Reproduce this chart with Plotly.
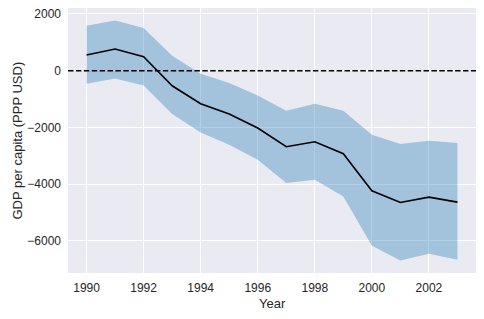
import plotly.graph_objects as go

years = list(range(1990, 2004))
mean_gdp = [553, 764, 493, -529, -1163, -1527, -2020, -2678, -2502, -2925, -4229, -4641, -4453, -4629]
upper = [1586, 1773, 1504, 529, -106, -434, -870, -1410, -1163, -1410, -2256, -2584, -2467, -2550]
lower = [-458, -271, -518, -1527, -2173, -2608, -3136, -3958, -3841, -4430, -6167, -6685, -6449, -6661]
xticks = [1990, 1992, 1994, 1996, 1998, 2000, 2002]
yticks = [2000, 0, -2000, -4000, -6000]

fig = go.Figure()
fig.add_trace(go.Scatter(x=years, y=upper, mode="lines", line=dict(width=0),
                         showlegend=False, hoverinfo="skip"))
fig.add_trace(go.Scatter(x=years, y=lower, mode="lines", line=dict(width=0),
                         fill="tonexty", fillcolor="rgba(31,119,180,0.35)",
                         showlegend=False, hoverinfo="skip"))
fig.add_trace(go.Scatter(x=years, y=mean_gdp, mode="lines",
                         line=dict(color="black", width=1.6), showlegend=False))

fig.add_shape(type="line", xref="paper", yref="y", x0=0, x1=1, y0=0, y1=0,
              line=dict(color="black", width=1.6, dash="5.5px,2.4px"), layer="above")

fig.add_annotation(text="Year", xref="paper", yref="paper", x=0.5, y=0,
                   yshift=-30, yanchor="middle", showarrow=False,
                   font=dict(size=13, color="#262626"))
fig.add_annotation(text="GDP per capita (PPP USD)", xref="paper", yref="paper",
                   x=0, y=0.5, xshift=-51, xanchor="center", textangle=-90,
                   showarrow=False, font=dict(size=13, color="#262626"))

fig.update_layout(
    width=484, height=319,
    margin=dict(l=68, r=8, t=8, b=46),
    paper_bgcolor="white", plot_bgcolor="#EAEAF2",
    font=dict(family="Liberation Sans, Arial, sans-serif", size=12, color="#262626"),
    xaxis=dict(range=[1989.35, 2003.65], tickvals=xticks, ticktext=[str(t) for t in xticks],
               showgrid=True, gridcolor="white", gridwidth=1.2, zeroline=False,
               showline=False, ticks="", ticklabelstandoff=6, automargin=False),
    yaxis=dict(range=[-7128, 2211], tickvals=yticks,
               ticktext=["2000", "0", "\u22122000", "\u22124000", "\u22126000"],
               showgrid=True, gridcolor="white", gridwidth=1.2, zeroline=False,
               showline=False, ticks="", ticklabelstandoff=6, automargin=False),
)

fig.write_html("out.html", config={"displayModeBar": False},
               post_script="document.body.style.margin='0';")
